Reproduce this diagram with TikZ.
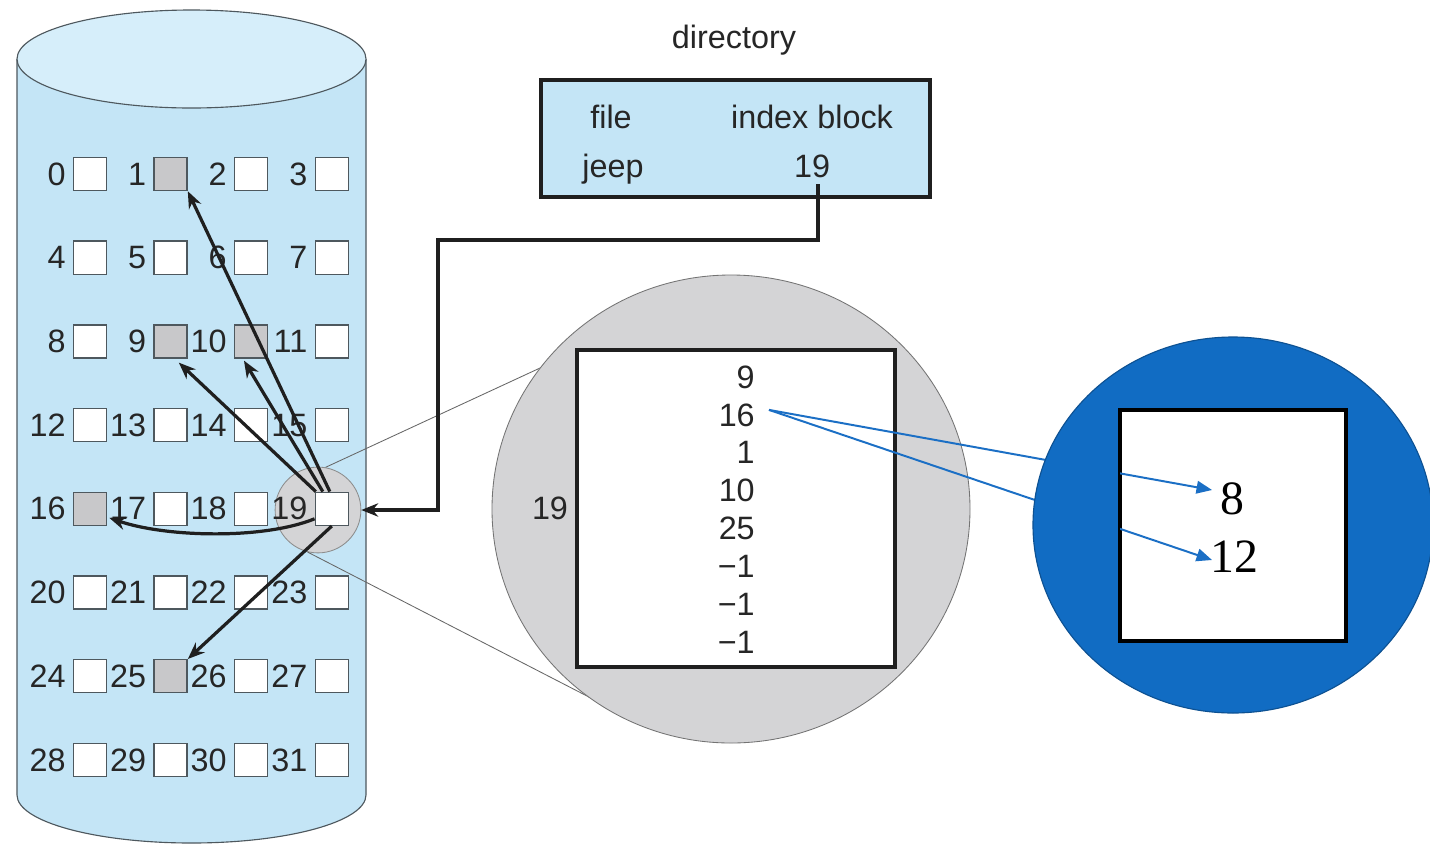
\documentclass[tikz,border=0pt]{standalone}
\usepackage{fontspec}
\setmainfont{Liberation Sans}
\newfontfamily\timesfont{Liberation Serif}
\usetikzlibrary{arrows.meta,calc}
\definecolor{disk}{HTML}{C4E5F6}
\definecolor{disktop}{HTML}{D6EEFA}
\definecolor{diskline}{HTML}{4E585E}
\definecolor{ink}{HTML}{262626}
\definecolor{used}{HTML}{C8C8CA}
\definecolor{lens}{HTML}{D4D4D6}
\definecolor{blueball}{HTML}{116CC3}
\definecolor{blueline}{HTML}{1B6FC5}
\begin{document}
\begin{tikzpicture}[x=0.025cm,y=-0.025cm,
  blk/.style={draw=diskline,line width=1pt,fill=white,minimum size=23.5pt,inner sep=0pt},
  num/.style={font=\fontsize{23}{26}\selectfont,text=ink,inner sep=0pt},
  ptr/.style={line width=2.3pt,draw=black!88,-{Stealth[length=12pt,width=9.5pt]}},
  zoomline/.style={draw=black!60,line width=0.6pt},
  bptr/.style={draw=blueline,line width=1.4pt,-{Triangle[length=11pt,width=9pt]}},
  bignum/.style={font=\timesfont\fontsize{34}{40}\selectfont,text=black,inner sep=0pt},
]
\clip (0,0) rectangle (1430,844);
\fill[white] (0,0) rectangle (1430,844);

% ---- disk drawn as a cylinder ----
\path[fill=disk,draw=diskline,line width=0.8pt]
  (17,59) -- (17,795) arc[start angle=180,end angle=0,x radius=174.5,y radius=48] -- (366,59);
\path[fill=disktop,draw=diskline,line width=0.8pt]
  (191.5,59) ellipse [x radius=174.5,y radius=49];

% highlight behind block 19
\node[circle,fill=lens,draw=black!45,line width=0.6pt,minimum size=61pt,inner sep=0pt] (hl) at (318,510) {};

% ---- magnified index block ----
\coordinate (mc) at (731,509);
\draw[zoomline] (hl.80) -- (553,362) coordinate (zt);
\draw[zoomline] (hl.-104) -- (620,713) coordinate (zb);
\path[fill=lens,draw=black!55,line width=0.6pt] (mc) ellipse [x radius=239,y radius=234];
\draw[draw=black!88,line width=2.6pt,fill=white] (577,350) rectangle (895,667);
\node[num] (ixlabel) at (550,508) {19};
\foreach \v [count=\i] in {9,16,1,10,25,−1,−1,−1}
  \node[num,anchor=east] (m\i) at (755,{377+37.9*(\i-1)}) {\v};

% ---- disk blocks 0..31 ----
\foreach \r in {0,...,7}{
  \foreach \c in {0,...,3}{
    \pgfmathtruncatemacro{\n}{4*\r+\c}
    \node[blk] (b\n) at ({90+80.6*\c},{174+83.7*\r}) {};
    \node[num,anchor=east] (l\n) at ([shift={(-7,0)}]b\n.west) {\n};
  }
}
\foreach \n in {1,9,10,16,25}
  \node[blk,fill=used] at (b\n) {};

% pointers held in index block 19
\draw[ptr] ([shift={(-16,0)}]b19.north) -- ([shift={(-9,4)}]b9.south east);
\draw[ptr] ([shift={(-9,0)}]b19.north) -- ([shift={(10,2)}]b10.south west);
\draw[ptr] ([shift={(-2,0)}]b19.north) -- (b1.south east);
\draw[ptr] ([shift={(0,10)}]b19.west) .. controls (262,540) and (165,537) .. ([shift={(2,9)}]b16.east);
\draw[ptr] (b19.south) -- (b25.north east);

% ---- directory ----
\node[num,anchor=base] (dirtitle) at (734,48) {directory};
\draw[draw=black!88,line width=2.6pt,fill=disk] (541,80) rectangle (930,197);
\node[num,anchor=base] (hfile) at (611,128) {file};
\node[num,anchor=base] (hindex) at (812,128) {index block};
\node[num,anchor=base] (dfile) at (613,177) {jeep};
\node[num,anchor=base] (dir19) at (812,177) {19};
\coordinate (dtap) at (818,184);
\draw[ptr] (dtap) |- (438,240) |- (hl.east);

% ---- second-level block ----
\coordinate (bsrc) at ([shift={(14,-5)}]m2.east);
\coordinate (t8) at (1212,490);
\coordinate (t12) at (1212,560);
\draw[bptr] (bsrc) -- (t8);
\draw[bptr] (bsrc) -- (t12);
\path[fill=blueball,draw=blueball!75!black,line width=0.8pt] (1233,525) ellipse [x radius=200,y radius=188];
\draw[draw=black,line width=2.2pt,fill=white] (1120,410) rectangle (1346,641);
\begin{scope}
  \clip (1120,410) rectangle (1346,641);
  \draw[bptr] (bsrc) -- (t8);
  \draw[bptr] (bsrc) -- (t12);
\end{scope}
\node[bignum] (n8) at (1232,499) {8};
\node[bignum] (n12) at (1234,557) {12};
\end{tikzpicture}
\end{document}
